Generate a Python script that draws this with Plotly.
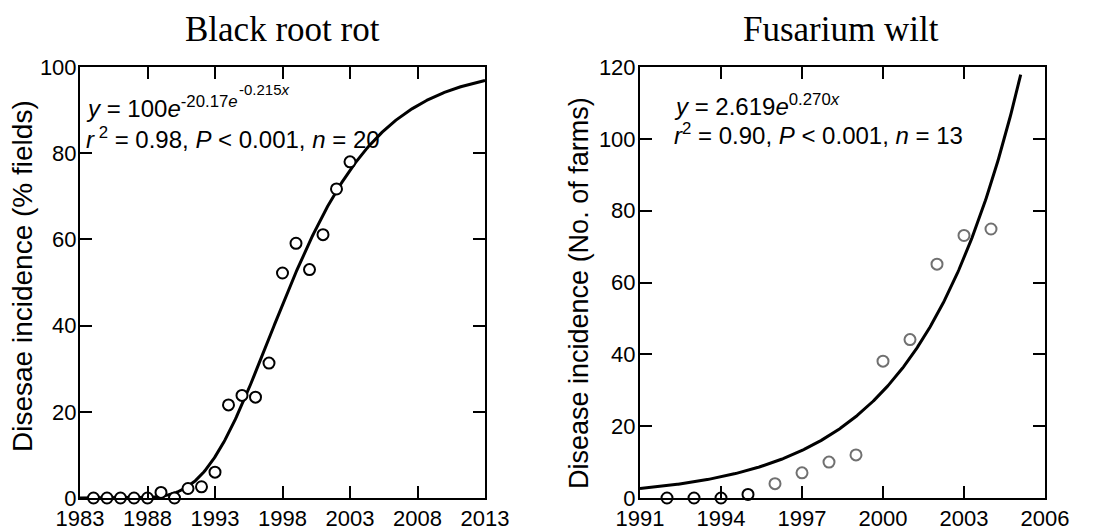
import numpy as np
import plotly.graph_objects as go

# ---- data ----
brr_years = list(range(1984, 2004))
brr_values = [0, 0, 0, 0, 0, 1.3, 0, 2.2, 2.6, 6.0, 21.6, 23.8, 23.4, 31.3,
              52.2, 59.1, 53.0, 61.1, 71.7, 78.0]
fw_years = list(range(1992, 2005))
fw_values = [0, 0, 0, 1.0, 4.0, 7.0, 10.0, 12.0, 38.1, 44.1, 65.1, 73.1, 74.9]
fw_marker_colors = ["#000000"] * 4 + ["#707070"] * 9

# fitted models as printed on the chart
brr_a, brr_b, brr_c, brr_x0 = 100, 20.17, 0.215, 1983   # y = a e^{-b e^{-c x}}
fw_a, fw_k, fw_x0 = 2.619, 0.270, 1991                   # y = a e^{k x}

brr_xticks = [1983, 1988, 1993, 1998, 2003, 2008, 2013]
brr_yticks = [0, 20, 40, 60, 80, 100]
fw_xticks = [1991, 1994, 1997, 2000, 2003, 2006]
fw_yticks = [0, 20, 40, 60, 80, 100, 120]

xc1 = np.linspace(1983, 2013, 400)
yc1 = brr_a * np.exp(-brr_b * np.exp(-brr_c * (xc1 - brr_x0)))
xc2 = np.linspace(1991, 2005.1, 400)
yc2 = fw_a * np.exp(fw_k * (xc2 - fw_x0))

W, H = 1104, 530
OFF = 8  # default page body margin
def px(x): return (x - OFF) / W
def py(y): return 1 - (y - OFF) / H

fig = go.Figure()
fig.add_trace(go.Scatter(x=xc1, y=yc1, mode="lines", line=dict(color="black", width=3),
                         xaxis="x", yaxis="y", showlegend=False))
fig.add_trace(go.Scatter(x=brr_years, y=brr_values, mode="markers",
                         marker=dict(symbol="circle", size=11, color="white",
                                     line=dict(color="black", width=2)),
                         xaxis="x", yaxis="y", showlegend=False, cliponaxis=False))
fig.add_trace(go.Scatter(x=xc2, y=yc2, mode="lines", line=dict(color="black", width=3),
                         xaxis="x2", yaxis="y2", showlegend=False))
fig.add_trace(go.Scatter(x=fw_years, y=fw_values, mode="markers",
                         marker=dict(symbol="circle", size=11, color="white",
                                     line=dict(color=fw_marker_colors, width=2)),
                         xaxis="x2", yaxis="y2", showlegend=False, cliponaxis=False))

tickfont = dict(family="Liberation Sans, Arial", size=22, color="black")
common = dict(showline=True, linecolor="black", linewidth=2, mirror="ticks",
              ticks="inside", ticklen=12, tickwidth=2, tickcolor="black",
              showgrid=False, zeroline=False, tickfont=tickfont, automargin=False)

ydom = [py(498), py(67)]
fig.update_layout(
    template="none",
    width=W, height=H, margin=dict(l=0, r=0, t=0, b=0, autoexpand=False),
    paper_bgcolor="white", plot_bgcolor="white",
    xaxis=dict(domain=[px(80), px(485)], range=[1983, 2013], tickvals=brr_xticks,
               anchor="y", **common),
    yaxis=dict(domain=ydom, range=[0, 100], tickvals=brr_yticks, anchor="x",
               ticklabelstandoff=-3, **common),
    xaxis2=dict(domain=[px(640), px(1045)], range=[1991, 2006], tickvals=fw_xticks,
                anchor="y2", **common),
    yaxis2=dict(domain=ydom, range=[0, 120], tickvals=fw_yticks, anchor="x2",
                ticklabelstandoff=-2, **common),
)

ann_font = dict(family="Liberation Sans, Arial", size=24, color="black")
sup2_font = dict(family="Liberation Sans, Arial", size=15, color="black")
title_font = dict(family="Liberation Serif, Times New Roman", size=35, color="black")
ytitle_font = dict(family="Liberation Sans, Arial", size=28, color="black")
ytitle_font2 = dict(family="Liberation Sans, Arial", size=27, color="black")

annotations = [
    dict(text="Black root rot", x=px(282), y=py(30), font=title_font),
    dict(text="Fusarium wilt", x=px(841), y=py(30), font=title_font),
    dict(text="Disesae incidence (% fields)", x=px(22), y=py(276), textangle=-90,
         font=ytitle_font),
    dict(text="Disease incidence (No. of farms)", x=px(579), y=py(293), textangle=-90,
         font=ytitle_font2),
    dict(text="<i>y</i> = 100<i>e</i><sup>-20.17<i>e</i></sup>",
         x=px(84), y=py(107), xanchor="left", font=ann_font),
    dict(text="-0.215<i>x</i>", x=px(237), y=py(90), xanchor="left", font=sup2_font),
    dict(text="<i>r</i><sup> 2</sup> = 0.98, <i>P</i> &lt; 0.001, <i>n</i> = 20",
         x=px(84), y=py(138), xanchor="left", font=ann_font),
    dict(text="<i>y</i> = 2.619<i>e</i><sup>0.270<i>x</i></sup>",
         x=px(672), y=py(105), xanchor="left", font=ann_font),
    dict(text="<i>r</i><sup>2</sup> = 0.90, <i>P</i> &lt; 0.001, <i>n</i> = 13",
         x=px(672), y=py(134), xanchor="left", font=ann_font),
]
for a in annotations:
    a.setdefault("xanchor", "center")
    a.update(xref="paper", yref="paper", showarrow=False, yanchor="middle")
fig.update_layout(annotations=annotations)

fig.write_html("out.html")
